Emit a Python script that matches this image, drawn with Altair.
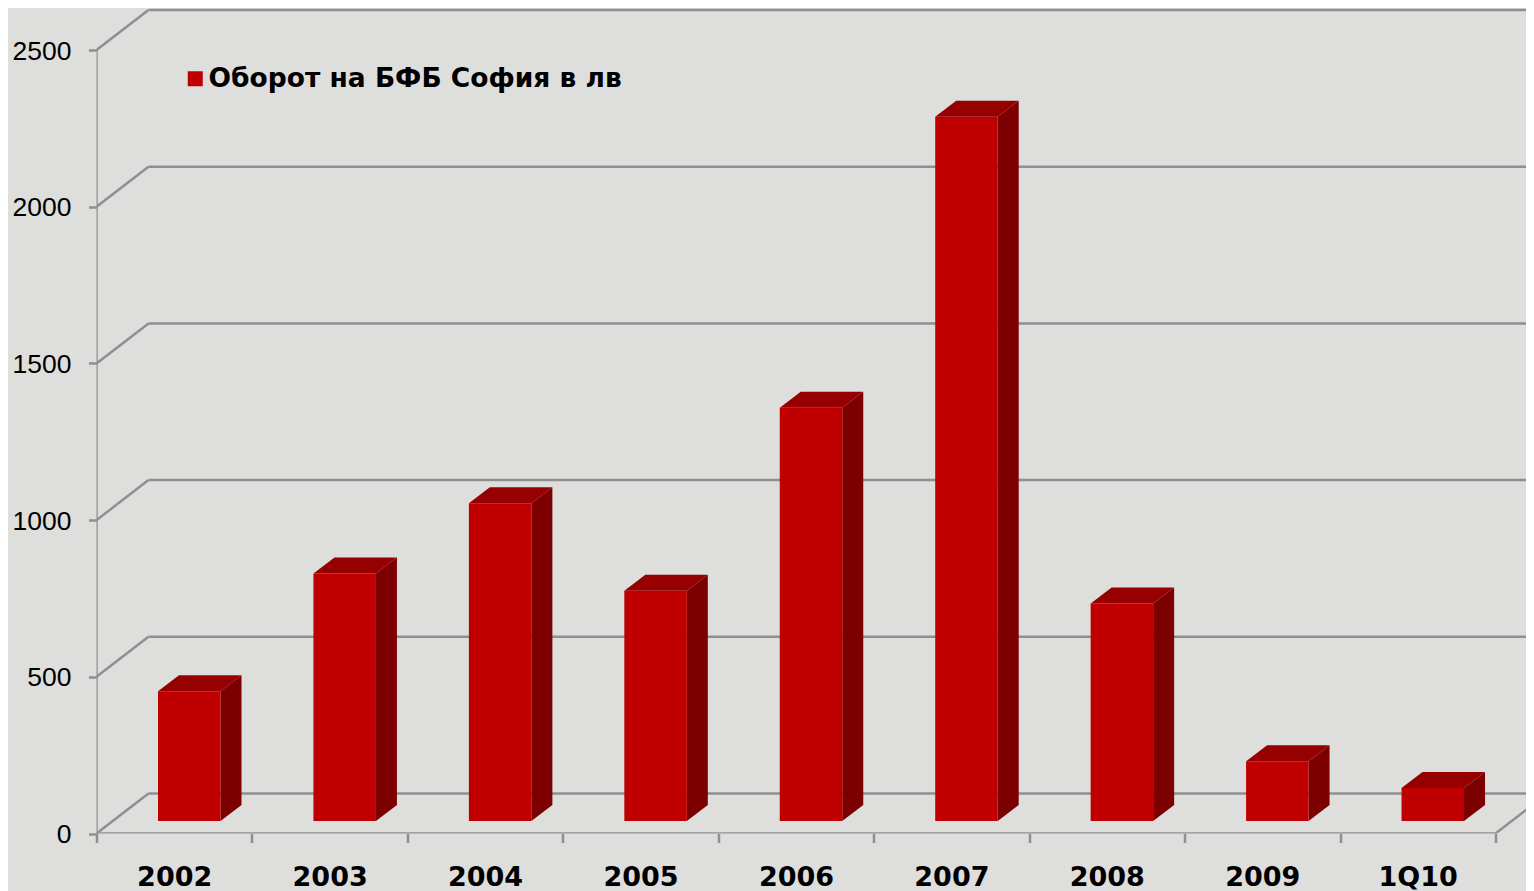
import altair as alt
import pandas as pd

categories = ["2002", "2003", "2004", "2005", "2006", "2007", "2008", "2009", "1Q10"]
values = [414, 790, 1014, 735, 1319, 2247, 694, 191, 105]
y_ticks = [0, 500, 1000, 1500, 2000, 2500]
series_name = "Оборот на БФБ София в лв"

BG = "#dededd"; GRID = "#8f8f8f"; FRONT = "#c00000"; SIDE = "#7c0000"; TOP = "#960000"
PX_X = 155.44; PX_Y = 0.3134
PLOT_W = 1429.5; PLOT_H = 825.5
WALL_DX = 52 / PX_X; WALL_DY = 40 / PX_Y
BAR_DX = 21 / PX_X; BAR_DY = 16 / PX_Y
BAR_L = 61.5 / PX_X; BAR_W = 62.5 / PX_X; BASE = 12.5 / PX_Y
XMAX = PLOT_W / PX_X; YMAX = PLOT_H / PX_Y

xs = alt.Scale(domain=[0, XMAX], nice=False, zero=False)
ys = alt.Scale(domain=[0, YMAX], nice=False, zero=False)
X = lambda **k: alt.X("x:Q", scale=xs, title=None, **k)
Y = lambda **k: alt.Y("y:Q", scale=ys, title=None, stack=None, **k)

front_rows, side_rows, top_rows = [], [], []
for i, (c, v) in enumerate(zip(categories, values)):
    l = i + BAR_L; r = l + BAR_W; t = v + BASE
    front_rows.append(dict(x=l, x2=r, y=BASE, y2=t, s=series_name))
    side_rows += [dict(c=c, x=r, y=BASE, y2=t),
                  dict(c=c, x=r + BAR_DX, y=BASE + BAR_DY, y2=t + BAR_DY)]
    top_rows += [dict(c=c, x=l, y=t, y2=t),
                 dict(c=c, x=l + BAR_DX, y=t, y2=t + BAR_DY),
                 dict(c=c, x=r, y=t, y2=t + BAR_DY),
                 dict(c=c, x=r + BAR_DX, y=t + BAR_DY, y2=t + BAR_DY)]

walls = pd.DataFrame([dict(x=WALL_DX, x2=XMAX, y=v + WALL_DY) for v in y_ticks])
diag_rows = []
for v in y_ticks:
    diag_rows += [dict(k=f"d{v}", x=0, y=v), dict(k=f"d{v}", x=WALL_DX, y=v + WALL_DY)]
diag_rows += [dict(k="r", x=9, y=0), dict(k="r", x=9 + WALL_DX, y=WALL_DY)]
diag_rows += [dict(k="left", x=0, y=0), dict(k="left", x=0, y=2500)]
diag_rows += [dict(k="floor", x=0, y=0), dict(k="floor", x=9, y=0)]

x_axis = alt.Axis(
    values=list(range(10)), domain=False, grid=False, tickColor=GRID, tickWidth=2.5, tickSize=9,
    labelExpr="(" + str(categories + [""]) + ")[datum.value]",
    labelFont="DejaVu Sans", labelFontWeight="bold", labelFontSize=27, labelColor="black",
    labelOffset=77.7, labelPadding=22, labelOverlap=False, labelBound=False, labelFlush=False)
y_axis = alt.Axis(
    values=y_ticks, domain=False, grid=False, tickColor=GRID, tickWidth=2.5, tickSize=8,
    format="d", labelFont="Liberation Sans", labelFontSize=26.5, labelColor="black",
    labelPadding=17.5, labelOffset=1, labelOverlap=False, labelBound=False, labelFlush=False)

wall = alt.Chart(walls).mark_rule(color=GRID, strokeWidth=2.5, clip=True).encode(
    x=X(axis=x_axis), x2="x2:Q", y=Y(axis=y_axis))
diag = alt.Chart(pd.DataFrame(diag_rows)).mark_line(color=GRID, strokeWidth=2.5, clip=True).encode(
    x=X(axis=x_axis), y=Y(axis=y_axis), detail="k:N", order=alt.Order("x:Q"))
front = alt.Chart(pd.DataFrame(front_rows)).mark_rect().encode(
    x=X(axis=x_axis), x2="x2:Q", y=Y(axis=y_axis), y2="y2:Q",
    color=alt.Color("s:N", scale=alt.Scale(domain=[series_name], range=[FRONT]), legend=alt.Legend(
        title=None, orient="none", legendX=85.5, legendY=57.5, symbolType="square", symbolSize=225,
        symbolStrokeWidth=0, labelFont="DejaVu Sans", labelFontWeight="bold", labelFontSize=26.5,
        labelColor="black", labelLimit=600, labelOffset=0, padding=0)))
side = alt.Chart(pd.DataFrame(side_rows)).mark_area(color=SIDE, opacity=1).encode(
    x=X(axis=x_axis), y=Y(axis=y_axis), y2="y2:Q", detail="c:N")
top = alt.Chart(pd.DataFrame(top_rows)).mark_area(color=TOP, opacity=1).encode(
    x=X(axis=x_axis), y=Y(axis=y_axis), y2="y2:Q", detail="c:N")

chart = alt.layer(wall, diag, side, top, front).properties(
    width=PLOT_W, height=PLOT_H, background=BG,
    autosize=alt.AutoSizeParams(type="none"),
    padding={"left": 88.5, "top": 0, "right": 0, "bottom": 57.5},
).configure_view(stroke=None)

chart.save("out.html", embed_options={"renderer": "svg", "actions": False})
